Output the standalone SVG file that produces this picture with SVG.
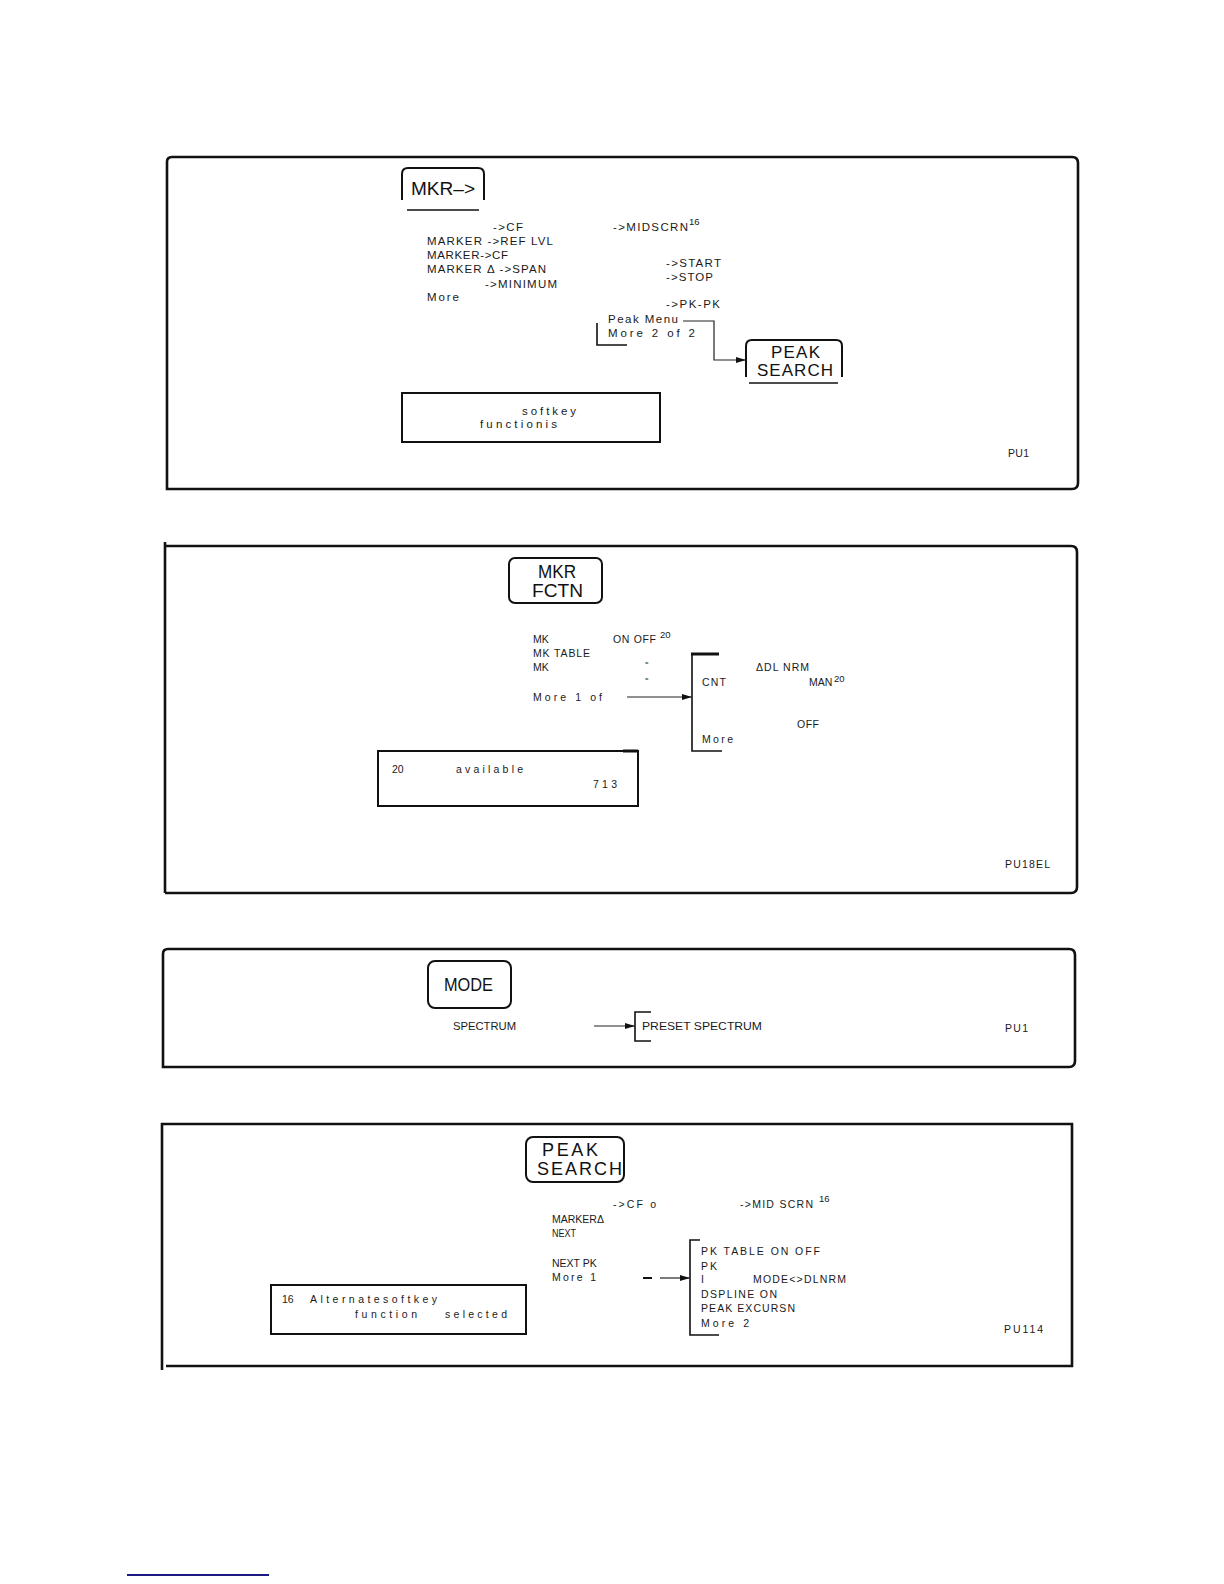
<svg xmlns="http://www.w3.org/2000/svg" width="1224" height="1584" viewBox="0 0 1224 1584">
<defs>
<marker id="arr" viewBox="0 0 10 6" refX="10" refY="3" markerWidth="11" markerHeight="6" markerUnits="userSpaceOnUse" orient="auto"><path d="M0,0 L10,3 L0,6 z" fill="#111"/></marker>
<style>
.t{font-family:"Liberation Sans",Arial,sans-serif;font-size:11.5px;fill:#1a1a1a}
.sm{font-size:10.5px}
.s{font-family:"Liberation Sans",Arial,sans-serif;font-size:9.5px;fill:#1a1a1a}
.k{font-family:"Liberation Sans",Arial,sans-serif;font-size:18px;fill:#111}
.frame{fill:none;stroke:#111;stroke-width:2.6}
.box{fill:none;stroke:#111;stroke-width:2}
.br{fill:none;stroke:#111;stroke-width:1.6}
.ln{fill:none;stroke:#222;stroke-width:1.2}
</style>
</defs>
<rect width="1224" height="1584" fill="#fff"/>

<!-- Panel 1 -->
<g id="panel1">
<path class="frame" d="M167,489 V162 Q167,157 172,157 H1072 Q1078,157 1078,163 V483 Q1078,489 1072,489 Z"/>
<g id="key-mkr">
<path class="box" d="M402,200 V174 Q402,168 408,168 H478 Q484,168 484,174 V200"/>
<line x1="407" y1="210" x2="479" y2="210" stroke="#111" stroke-width="1.5"/>
<text class="k" x="411" y="195" textLength="64" lengthAdjust="spacingAndGlyphs">MKR–&gt;</text>
</g>
<g id="menu-mkr">
<text class="t" x="493" y="231" textLength="30">-&gt;CF</text>
<text class="t" x="427" y="245" textLength="126">MARKER -&gt;REF LVL</text>
<text class="t" x="427" y="259" textLength="81">MARKER-&gt;CF</text>
<text class="t" x="427" y="273" textLength="119">MARKER Δ -&gt;SPAN</text>
<text class="t" x="485" y="288" textLength="72">-&gt;MINIMUM</text>
<text class="t" x="427" y="301" textLength="32">More</text>
<text class="t" x="613" y="231" textLength="75">-&gt;MIDSCRN</text>
<text class="s" x="689" y="225">16</text>
<text class="t" x="666" y="267" textLength="55">-&gt;START</text>
<text class="t" x="666" y="281" textLength="47">-&gt;STOP</text>
<text class="t" x="666" y="308" textLength="54">-&gt;PK-PK</text>
<text class="t" x="608" y="323" textLength="70">Peak Menu</text>
<text class="t" x="608" y="337" textLength="87">More 2 of 2</text>
<path class="br" d="M597,323 V345 H627"/>
</g>
<g id="key-peak1">
<path class="box" d="M746,377 V346 Q746,340 752,340 H836 Q842,340 842,346 V377"/>
<line x1="749" y1="383" x2="838" y2="383" stroke="#111" stroke-width="1.5"/>
<text class="k" style="font-size:17px" x="771" y="358" textLength="49">PEAK</text>
<text class="k" style="font-size:17px" x="757" y="376" textLength="76">SEARCH</text>
</g>
<g id="note1">
<rect class="box" x="402" y="393" width="258" height="49"/>
<text class="t" x="522" y="415" textLength="54">softkey</text>
<text class="t" x="480" y="428" textLength="77">functionis</text>
</g>
<text class="t sm" x="1008" y="457" textLength="21">PU1</text>
</g>

<!-- Panel 2 -->
<g id="panel2">
<path class="frame" d="M165,893 V542 M165,546 H1071 Q1077,546 1077,552 V887 Q1077,893 1071,893 H165"/>
<g id="key-mkrfctn">
<rect class="box" x="509" y="558" width="93" height="45" rx="6"/>
<text class="k" x="538" y="578" textLength="38" lengthAdjust="spacingAndGlyphs">MKR</text>
<text class="k" x="532" y="597" textLength="51" lengthAdjust="spacingAndGlyphs">FCTN</text>
</g>
<g id="menu-fctn">
<text class="t sm" x="533" y="643">MK</text>
<text class="t sm" x="533" y="657" textLength="57">MK TABLE</text>
<text class="t sm" x="533" y="671">MK</text>
<text class="t sm" x="533" y="701" textLength="69">More 1 of</text>
<text class="t sm" x="613" y="643" textLength="43">ON OFF</text>
<text class="s" x="660" y="638">20</text>
<text class="s" style="font-size:6px" x="645" y="665">=</text>
<text class="s" style="font-size:6px" x="645" y="681">=</text>
</g>
<g id="menu-fctn2">
<path class="br" d="M692,654 V751 H722"/>
<line x1="691" y1="654" x2="719" y2="654" stroke="#111" stroke-width="3"/>
<text class="t sm" x="702" y="686" textLength="24">CNT</text>
<text class="t sm" x="702" y="743" textLength="31">More</text>
<text class="t sm" x="756" y="671" textLength="53">ΔDL NRM</text>
<text class="t sm" x="809" y="686">MAN</text>
<text class="s" x="834" y="682">20</text>
<text class="t sm" x="797" y="728" textLength="22">OFF</text>
</g>
<g id="note2">
<rect class="box" x="378" y="751" width="260" height="55"/>
<line x1="623" y1="751" x2="638" y2="751" stroke="#111" stroke-width="3"/>
<text class="t sm" x="392" y="773">20</text>
<text class="t sm" x="456" y="773" textLength="67">available</text>
<text class="t sm" x="593" y="788" textLength="24">713</text>
</g>
<text class="t sm" x="1005" y="868" textLength="45">PU18EL</text>
</g>

<!-- Panel 3 -->
<g id="panel3">
<path class="frame" d="M163,1067 V954 Q163,949 168,949 H1069 Q1075,949 1075,955 V1061 Q1075,1067 1069,1067 Z"/>
<g id="key-mode">
<rect class="box" x="428" y="961" width="83" height="47" rx="7"/>
<text class="k" style="font-size:19px" x="444" y="991" textLength="49" lengthAdjust="spacingAndGlyphs">MODE</text>
</g>
<text class="t sm" x="453" y="1030" textLength="63" lengthAdjust="spacingAndGlyphs">SPECTRUM</text>
<g id="menu-mode">
<path class="br" d="M651,1012 H635 V1041 H651"/>
<text class="t sm" x="642" y="1030" textLength="120" lengthAdjust="spacingAndGlyphs">PRESET SPECTRUM</text>
</g>
<text class="t sm" x="1005" y="1032" textLength="23">PU1</text>
</g>

<!-- Panel 4 -->
<g id="panel4">
<path class="frame" d="M162,1370 V1124 H1072 V1366 H166"/>
<g id="key-peak4">
<rect class="box" x="526" y="1137" width="98" height="45" rx="7"/>
<text class="k" x="542" y="1156" textLength="56">PEAK</text>
<text class="k" x="537" y="1175" textLength="85">SEARCH</text>
</g>
<g id="menu-peak">
<text class="t sm" x="552" y="1223">MARKERΔ</text>
<text class="t sm" x="552" y="1237" textLength="24" lengthAdjust="spacingAndGlyphs">NEXT</text>
<text class="t sm" x="552" y="1267">NEXT PK</text>
<text class="t sm" x="552" y="1281" textLength="44">More 1</text>
<text class="t sm" x="613" y="1208" textLength="43">-&gt;CF o</text>
<text class="t sm" x="740" y="1208" textLength="73">-&gt;MID SCRN</text>
<text class="s" x="819" y="1202">16</text>
</g>
<g id="menu-peak2">
<path class="br" d="M700,1240 H690 V1335 H719"/>
<text class="t sm" x="701" y="1255" textLength="119">PK TABLE ON OFF</text>
<text class="t sm" x="701" y="1270" textLength="16">PK</text>
<text class="t sm" x="701" y="1283">I</text>
<text class="t sm" x="753" y="1283" textLength="93">MODE&lt;&gt;DLNRM</text>
<text class="t sm" x="701" y="1298" textLength="76">DSPLINE ON</text>
<text class="t sm" x="701" y="1312" textLength="94">PEAK EXCURSN</text>
<text class="t sm" x="701" y="1327" textLength="48">More 2</text>
</g>
<g id="note4">
<rect class="box" x="271" y="1285" width="255" height="49"/>
<text class="t sm" x="282" y="1303">16</text>
<text class="t sm" x="310" y="1303" textLength="127">Alternatesoftkey</text>
<text class="t sm" x="355" y="1318" textLength="62">function</text>
<text class="t sm" x="445" y="1318" textLength="62">selected</text>
</g>
<text class="t sm" x="1004" y="1333" textLength="39">PU114</text>
</g>

<!-- Connectors -->
<g id="connectors">
<path class="ln" d="M683,321 H714 V360 H746" marker-end="url(#arr)"/>
<path class="ln" d="M627,697 H692" marker-end="url(#arr)"/>
<path class="ln" d="M594,1026 H635" stroke="#555" stroke-width="1.6" marker-end="url(#arr)"/>
<line x1="643" y1="1278" x2="652" y2="1278" stroke="#111" stroke-width="2"/>
<path class="ln" d="M660,1278 H690" marker-end="url(#arr)"/>
</g>

<line x1="127" y1="1575" x2="269" y2="1575" stroke="#1a1a80" stroke-width="2"/>
</svg>
